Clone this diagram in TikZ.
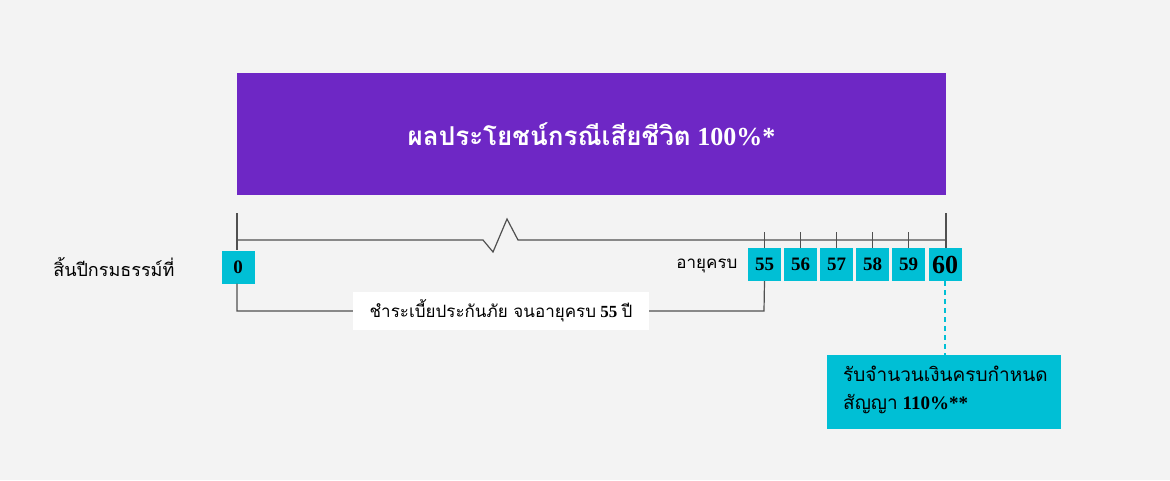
\documentclass[tikz,border=0pt]{standalone}
\usepackage{fontspec}
\setmainfont{Liberation Serif}
\newfontfamily\thaifont[Script=Thai]{Loma}
\definecolor{bgcol}{HTML}{F3F3F3}
\definecolor{plan}{HTML}{6E27C5}
\definecolor{agebox}{HTML}{00BFD5}
\definecolor{axis}{HTML}{505050}
\tikzset{
  yr/.style={fill=agebox, inner sep=0pt, minimum width=33pt, minimum height=33pt, font=\fontsize{19}{19}\selectfont\bfseries},
  tl/.style={draw=axis, line width=1.2pt},
}
\begin{document}
\begin{tikzpicture}[x=1pt, y=-1pt]
\fill[bgcol] (0,0) rectangle (1170,480);
\useasboundingbox (0,0) rectangle (1170,480);

\node[fill=plan, minimum width=709pt, minimum height=122pt, inner sep=0pt, text=white,
  font=\fontsize{26}{26}\selectfont\bfseries] (death) at (591.5,134) {{\thaifont ผลประโยชน์กรณีเสียชีวิต} 100\%*};

\node[yr] (a0) at (238,267) {0};
\node[yr] (a55) at (764.5,264.5) {55};
\node[yr] (a56) at (800.5,264.5) {56};
\node[yr] (a57) at (836.5,264.5) {57};
\node[yr] (a58) at (872.5,264.5) {58};
\node[yr] (a59) at (908.5,264.5) {59};
\node[yr, font=\fontsize{26}{26}\selectfont\bfseries] (a60) at (945,264.5) {60};

\node[anchor=east, font=\thaifont\fontsize{18}{18}\selectfont] (endyr) at (178,267) {สิ้นปีกรมธรรม์ที่};
\node[anchor=east, font=\thaifont\fontsize{17}{17}\selectfont] (age) at (741,266) {อายุครบ};

% time line with break
\coordinate (s0) at (237,213);
\coordinate (e0) at (946,213);
\draw[tl] (s0)--(a0.north -| s0);
\draw[tl] (e0)--(a60.north -| e0);
\draw[tl] (237,240)--(483,240)--(493,252)--(507,219)--(518,240)--(946,240);
\foreach \n in {55,56,57,58,59}
  \draw[tl] (a\n.north)--++(0,-16);

% premium period
\coordinate (p0) at (237,311);
\coordinate (p1) at (764,311);
\draw[tl] (a0.south -| p0)--(p0)--(p1)--(a55.south);
\node[fill=white, minimum width=296pt, minimum height=38pt, inner sep=0pt,
  font=\fontsize{17}{17}\selectfont] (pay) at (501,311) {{\thaifont ชำระเบี้ยประกันภัย จนอายุครบ} \textbf{55} {\thaifont ปี}};

% maturity
\node[fill=agebox, minimum width=234pt, minimum height=74pt, inner sep=0pt] (mat) at (944,392) {};
\node[anchor=north west, align=left, inner sep=0pt, font=\fontsize{19}{28}\selectfont] (mattxt) at (843,366)
  {{\thaifont รับจำนวนเงินครบกำหนด}\\{\thaifont สัญญา} \textbf{110\%**}};
\draw[agebox, line width=2pt, dash pattern=on 5pt off 4pt] (a60.south)--(mat.north -| a60.south);
\end{tikzpicture}
\end{document}
